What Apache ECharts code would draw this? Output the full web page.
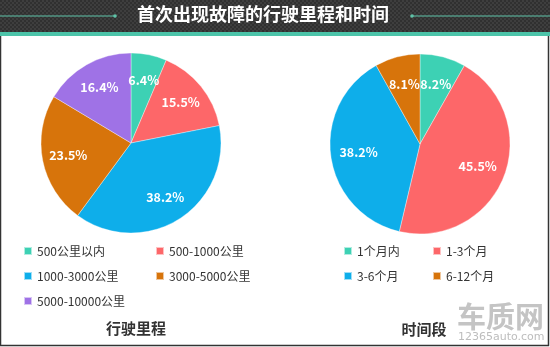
<!DOCTYPE html>
<html><head><meta charset="utf-8">
<script src="https://cdn.jsdelivr.net/npm/echarts@6/dist/echarts.min.js"></script>
<style>html,body{margin:0;padding:0;background:#fff}#c{width:550px;height:347px}</style>
</head><body><div id="c"></div>
<script>
const mainTitle = '首次出现故障的行驶里程和时间';
const mileageTitle = '行驶里程';
const mileageNames = ['500公里以内','500-1000公里','1000-3000公里','3000-5000公里','5000-10000公里'];
const mileageValues = [6.4, 15.5, 38.2, 23.5, 16.4];
const timeTitle = '时间段';
const timeNames = ['1个月内','1-3个月','3-6个月','6-12个月'];
const timeValues = [8.2, 45.5, 38.2, 8.1];
const colors = ['#3dd1b4','#fd6769','#0eaeea','#d7740b','#9f72e6'];

const FONT = '"Noto Sans CJK SC","Microsoft YaHei",sans-serif';
const chart = echarts.init(document.getElementById('c'));

// checker pattern for the header band
const pc = document.createElement('canvas'); pc.width = 4; pc.height = 4;
const pctx = pc.getContext('2d');
pctx.fillStyle = '#3e3e3e'; pctx.fillRect(0,0,4,4);
pctx.fillStyle = '#303030'; pctx.fillRect(0,0,2,2); pctx.fillRect(2,2,2,2);

function mk(names, vals){ return names.map((n,i)=>({name:n, value:vals[i], itemStyle:{color:colors[i]}})); }
function pieBase(center, names, vals){
  return {
    type:'pie', center:center, radius:[0,90], startAngle:90, clockwise:true,
    data: mk(names, vals), label:{show:false}, labelLine:{show:false},
    itemStyle:{borderColor:'rgba(255,255,255,0.6)', borderWidth:0.6},
    emphasis:{disabled:true}, silent:true, animation:false
  };
}
function pieLabels(center, inner, names, vals){
  return {
    type:'pie', center:center, radius:[inner,90], startAngle:90, clockwise:true,
    data: names.map((n,i)=>({name:n, value:vals[i]})),
    itemStyle:{color:'transparent'},
    label:{show:true, position:'inside', formatter:p=>p.value.toFixed(1)+'%', color:'#fff',
      fontSize:12.5, fontWeight:'bold', fontFamily:FONT},
    labelLine:{show:false}, emphasis:{disabled:true}, silent:true, animation:false
  };
}
function legendCol(left, top, data){
  return {orient:'vertical', left:left, top:top, data:data, icon:'rect', itemWidth:8, itemHeight:8,
    itemGap:11, padding:0, selectedMode:false,
    textStyle:{color:'#333', fontSize:12, fontFamily:FONT, lineHeight:14}};
}

chart.setOption({
  animation:false,
  title:[
    {text:mainTitle, left:137, top:5, padding:0, textStyle:{color:'#fff', fontSize:18, fontWeight:'bold', fontFamily:FONT}},
    {text:mileageTitle, left:131, textAlign:'center', top:316, textStyle:{color:'#333', fontSize:15, fontWeight:'bold', fontFamily:FONT}},
    {text:timeTitle, left:419, textAlign:'center', top:317, textStyle:{color:'#333', fontSize:15, fontWeight:'bold', fontFamily:FONT}}
  ],
  legend:[
    legendCol(23, 244, [mileageNames[0], mileageNames[2], mileageNames[4]]),
    legendCol(155, 244, [mileageNames[1], mileageNames[3]]),
    legendCol(343, 244, [timeNames[0], timeNames[2]]),
    legendCol(432, 244, [timeNames[1], timeNames[3]])
  ],
  graphic:[
    {type:'rect', z:-10, shape:{x:0,y:0,width:550,height:33}, style:{fill:{image:pc, repeat:'repeat'}}},
    {type:'rect', z:-9, shape:{x:0,y:32,width:550,height:4}, style:{fill:'#4cc4a9'}},
    {type:'line', z:-8, shape:{x1:0,y1:16,x2:115,y2:16}, style:{stroke:'#5fc3a8', lineWidth:1}},
    {type:'circle', z:-8, shape:{cx:115,cy:16,r:1.8}, style:{fill:'#5fc3a8'}},
    {type:'line', z:-8, shape:{x1:412,y1:16,x2:550,y2:16}, style:{stroke:'#5fc3a8', lineWidth:1}},
    {type:'circle', z:-8, shape:{cx:412,cy:16,r:1.8}, style:{fill:'#5fc3a8'}},
    {type:'polyline', z:-8, shape:{points:[[0.5,36],[0.5,345.5],[548.5,345.5],[548.5,36]]}, style:{stroke:'#333', lineWidth:1.5, fill:null}},
    {type:'text', z:-5, left:457, top:302, style:{text:'车质网', fill:'#c4c4c4', font:'bold 29px '+FONT}},
    {type:'text', z:-5, left:458, top:332, style:{text:'12365auto.com', fill:'#bdbdbd', font:'11px "DejaVu Sans",sans-serif'}}
  ],
  series:[
    pieBase([131,143], mileageNames, mileageValues),
    pieBase([420,144], timeNames, timeValues),
    pieLabels([131,143], 32, mileageNames, mileageValues),
    pieLabels([420,144], 28, timeNames, timeValues)
  ]
});
</script></body></html>
